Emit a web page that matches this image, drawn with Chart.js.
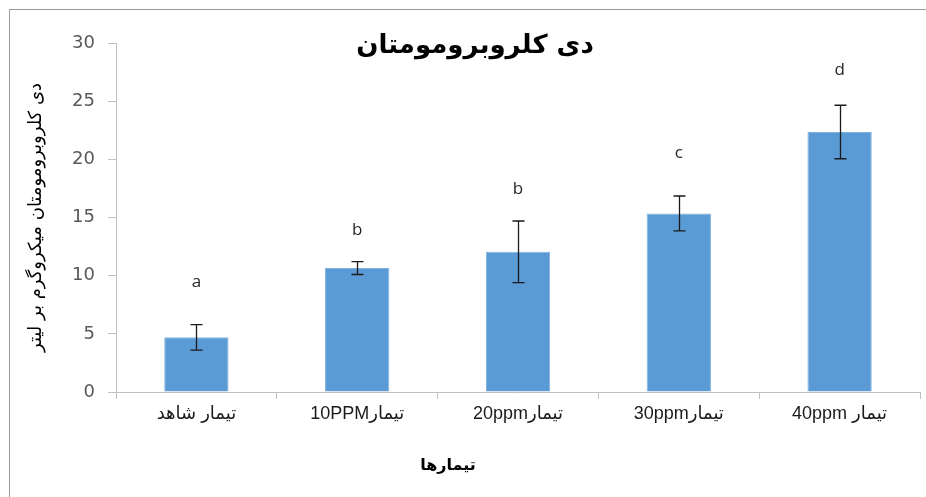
<!DOCTYPE html>
<html>
<head>
<meta charset="utf-8">
<script src="https://cdn.jsdelivr.net/npm/chart.js@4.4.1/dist/chart.umd.min.js"></script>
<style>
    html, body { margin: 0; padding: 0; background: #fff; overflow: hidden; }
    #frame {
        position: absolute; left: 9px; top: 9px; width: 940px; height: 520px;
        border-left: 1px solid #9a9a9a; border-top: 1px solid #9a9a9a;
    }
    #chart { position: absolute; left: 0; top: 0; }
</style>
</head>
<body>
<div id="frame"></div>
<canvas id="chart" width="926" height="497" dir="rtl"></canvas>
<script>
// Données
const categories = ['تیمار شاهد', 'تیمار10PPM', 'تیمار20ppm', 'تیمار30ppm', 'تیمار 40ppm'];
const means = [4.7, 10.65, 12.05, 15.35, 22.35];
const errors = [1.1, 0.55, 2.65, 1.5, 2.3];
const letters = ['a', 'b', 'b', 'c', 'd'];
const letterLevels = [9.4, 13.9, 17.4, 20.5, 27.7];
const yTicks = [0, 5, 10, 15, 20, 25, 30];

const chartTitle = 'دی کلروبرومومتان';
const xTitle = 'تیمارها';
const yTitle = 'دی کلروبرومومتان میکروگرم بر لیتر';

const arabicFont = "'DejaVu Sans', 'Liberation Sans', sans-serif";

(function () {
    // barres d'erreur, lettres, titres
    const annotations = {
        id: 'annotations',
        afterDatasetsDraw(chart) {
            const ctx = chart.ctx;
            const y = chart.scales.y;
            const meta = chart.getDatasetMeta(0);
            ctx.save();
            ctx.strokeStyle = '#1a1a1a';
            ctx.lineWidth = 1.3;
            meta.data.forEach(function (bar, i) {
                const x = Math.round(bar.x) + 0.5;
                const top = y.getPixelForValue(means[i] + errors[i]);
                const bot = y.getPixelForValue(means[i] - errors[i]);
                ctx.beginPath();
                ctx.moveTo(x, top);
                ctx.lineTo(x, bot);
                ctx.moveTo(x - 6, top);
                ctx.lineTo(x + 6, top);
                ctx.moveTo(x - 6, bot);
                ctx.lineTo(x + 6, bot);
                ctx.stroke();
            });

            ctx.fillStyle = '#262626';
            ctx.font = "17px 'Open Sans', sans-serif";
            ctx.textAlign = 'center';
            ctx.textBaseline = 'middle';
            meta.data.forEach(function (bar, i) {
                ctx.fillText(letters[i], bar.x, y.getPixelForValue(letterLevels[i]));
            });

            ctx.fillStyle = '#000';
            ctx.font = 'bold 26px ' + arabicFont;
            ctx.fillText(chartTitle, 475, 46);

            ctx.font = 'bold 16px ' + arabicFont;
            ctx.fillText(xTitle, 448, 466);
            ctx.restore();
        },
    };

    new Chart(document.getElementById('chart'), {
        type: 'bar',
        data: {
            labels: categories,
            datasets: [
                {
                    data: means,
                    backgroundColor: '#5B9BD5',
                    borderColor: '#7eb0df',
                    borderWidth: 1,
                    barPercentage: 0.4,
                    categoryPercentage: 1,
                },
            ],
        },
        options: {
            responsive: false,
            animation: false,
            layout: { padding: { top: 43, right: 6, left: 0, bottom: 0 } },
            plugins: {
                legend: { display: false },
                tooltip: { enabled: false },
            },
            scales: {
                x: {
                    afterFit(scale) {
                        scale.height = 105;
                    },
                    grid: {
                        offset: true,
                        drawOnChartArea: false,
                        tickLength: 7,
                        color: '#bfbfbf',
                    },
                    border: { color: '#bfbfbf' },
                    ticks: {
                        color: '#1a1a1a',
                        padding: 4,
                        maxRotation: 0,
                        font: { size: 18, family: "'Liberation Sans', 'DejaVu Sans', sans-serif" },
                    },
                },
                y: {
                    min: 0,
                    max: 30,
                    afterFit(scale) {
                        scale.width = 116;
                    },
                    afterBuildTicks(scale) {
                        scale.ticks = yTicks.map(function (v) {
                            return { value: v };
                        });
                    },
                    grid: {
                        drawOnChartArea: false,
                        tickLength: 8,
                        color: '#bfbfbf',
                    },
                    border: { color: '#bfbfbf' },
                    ticks: {
                        color: '#595959',
                        padding: 13,
                        font: { size: 18, family: "'DejaVu Sans', sans-serif" },
                    },
                    title: {
                        display: true,
                        text: yTitle,
                        color: '#000',
                        padding: { top: 26, bottom: 0 },
                        font: { size: 18, family: arabicFont },
                    },
                },
            },
        },
        plugins: [annotations],
    });
})();
</script>
</body>
</html>
